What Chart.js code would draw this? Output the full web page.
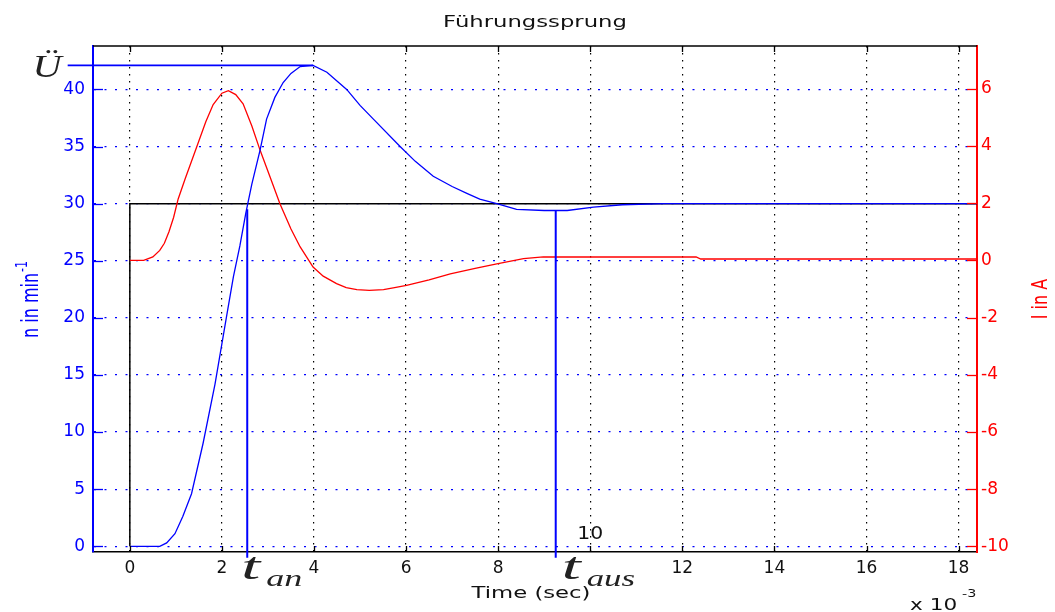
<!DOCTYPE html>
<html>
<head>
<meta charset="utf-8">
<script src="https://cdn.jsdelivr.net/npm/chart.js@4.4.1/dist/chart.umd.min.js"></script>
<style>
  html, body { margin: 0; padding: 0; background: #fff; }
</style>
</head>
<body>
<canvas id="chart" width="1055" height="612"></canvas>
<script>
// time axis in ms (x 10^-3 s)
const timeSpeed = [0, 0.65, 0.8, 0.98, 1.15, 1.34, 1.59, 1.85, 2.1, 2.25, 2.39, 2.52, 2.65, 2.83, 2.97, 3.15, 3.33, 3.5, 3.7, 3.98, 4.28, 4.71, 5.0, 5.29, 5.87, 6.2, 6.59, 7.0, 7.32, 7.6, 7.97, 8.4, 9.0, 9.5, 10.07, 10.7, 11.6, 18.4]
const speedValues = [0, 0, 0.3, 1.1, 2.6, 4.6, 9.0, 14.2, 20.1, 23.6, 26.3, 29.2, 31.7, 34.7, 37.4, 39.3, 40.6, 41.4, 42.0, 42.1, 41.5, 40.0, 38.6, 37.4, 35.0, 33.7, 32.4, 31.5, 30.9, 30.4, 30.0, 29.5, 29.4, 29.4, 29.7, 29.9, 30.0, 30.0]

const timeCurrent = [0, 0.3, 0.5, 0.65, 0.75, 0.85, 0.95, 1.05, 1.2, 1.45, 1.65, 1.81, 2.0, 2.14, 2.3, 2.46, 2.65, 2.83, 3.05, 3.26, 3.5, 3.7, 3.98, 4.2, 4.49, 4.7, 4.93, 5.2, 5.51, 5.75, 6.01, 6.5, 6.96, 7.5, 7.97, 8.55, 8.98, 12.3, 12.4, 18.4]
const currentValues = [0, 0, 0.12, 0.35, 0.6, 1.0, 1.5, 2.15, 2.85, 3.96, 4.85, 5.45, 5.85, 5.94, 5.8, 5.48, 4.7, 3.85, 2.9, 1.98, 1.1, 0.47, -0.23, -0.55, -0.81, -0.95, -1.02, -1.05, -1.02, -0.95, -0.87, -0.68, -0.47, -0.28, -0.12, 0.06, 0.12, 0.12, 0.05, 0.05]

// reference step (Führungsgröße)
const timeRef = [0, 0, 18.4]
const refValues = [0, 30, 30]

// markers: overshoot level, rise time, settling time
const overshootTime = [-1.35, 3.98]
const overshootLevel = 42.1
const tAn = 2.55
const tAus = 9.25
const markerTop = [29.5, 29.4]
const markerBottom = -1.0

const xTicks = [0, 2, 4, 6, 8, 10, 12, 14, 16, 18]

const toPoints = (xs, ys) => xs.map((x, i) => ({ x: x, y: ys[i] }))

const sans = 'DejaVu Sans'
const serif = 'Liberation Serif'

function drawText(ctx, str, x, y, font, color, align, sx) {
  ctx.save()
  ctx.translate(x, y)
  ctx.scale(sx || 1, 1)
  ctx.font = font
  ctx.fillStyle = color
  ctx.textAlign = align || 'left'
  ctx.textBaseline = 'alphabetic'
  ctx.fillText(str, 0, 0)
  ctx.restore()
}

// texts, top frame line and inward tick marks
const annotations = {
  id: 'annotations',
  afterDraw(chart) {
    const { ctx, chartArea: a, scales } = chart
    const xs = scales.x

    ctx.save()
    ctx.strokeStyle = '#000'
    ctx.lineWidth = 1.3
    ctx.beginPath()
    ctx.moveTo(a.left, a.top)
    ctx.lineTo(a.right, a.top)
    ctx.stroke()

    // inward ticks
    ctx.lineWidth = 1.3
    xs.ticks.forEach(t => {
      const px = Math.round(xs.getPixelForValue(t.value)) + 0.5
      ctx.beginPath()
      ctx.moveTo(px, a.top); ctx.lineTo(px, a.top + 6)
      ctx.moveTo(px, a.bottom); ctx.lineTo(px, a.bottom - 6)
      ctx.stroke()
    })
    ctx.strokeStyle = '#0000ff'
    scales.yLeft.ticks.forEach(t => {
      const py = Math.round(scales.yLeft.getPixelForValue(t.value)) + 0.5
      ctx.beginPath(); ctx.moveTo(a.left, py); ctx.lineTo(a.left + 10, py); ctx.stroke()
    })
    ctx.strokeStyle = '#ff0000'
    scales.yRight.ticks.forEach(t => {
      const py = Math.round(scales.yRight.getPixelForValue(t.value)) + 0.5
      ctx.beginPath(); ctx.moveTo(a.right, py); ctx.lineTo(a.right - 10, py); ctx.stroke()
    })
    ctx.restore()

    // title
    drawText(ctx, 'Führungssprung', (a.left + a.right) / 2, a.top - 19, '16px "' + sans + '"', '#111', 'center', 1.42)
    // x axis title
    drawText(ctx, 'Time (sec)', (a.left + a.right) / 2 - 4, a.bottom + 46, '16px "' + sans + '"', '#111', 'center', 1.42)
    // exponent
    drawText(ctx, 'x 10', 910, 610, '16px "' + sans + '"', '#111', 'left', 1.35)
    drawText(ctx, '-3', 962, 597, '11px "' + sans + '"', '#111', 'left', 1.3)
    // relocated tick label
    drawText(ctx, '10', xs.getPixelForValue(10), a.bottom - 13, '17px "' + sans + '"', '#111', 'center', 1.2)

    // left axis title
    ctx.save()
    ctx.translate(38, 300)
    ctx.rotate(-Math.PI / 2)
    ctx.scale(1, 1.4)
    ctx.font = '16px "' + sans + '"'
    ctx.fillStyle = '#0000ff'
    const w1 = ctx.measureText('n in min').width
    ctx.font = '11px "' + sans + '"'
    const w2 = ctx.measureText('-1').width
    const start = -(w1 + w2) / 2
    ctx.font = '16px "' + sans + '"'
    ctx.fillText('n in min', start, 0)
    ctx.font = '11px "' + sans + '"'
    ctx.fillText('-1', start + w1 + 1, -8)
    ctx.restore()

    // right axis title
    ctx.save()
    ctx.translate(1047, 299)
    ctx.rotate(-Math.PI / 2)
    ctx.scale(1, 1.35)
    ctx.font = '16px "' + sans + '"'
    ctx.fillStyle = '#ff0000'
    ctx.textAlign = 'center'
    ctx.fillText('I in A', 0, 0)
    ctx.restore()

    // Ü, t_an, t_aus
    drawText(ctx, 'Ü', 47, 77, 'italic 31px "' + serif + '"', '#222', 'center', 1.3)
    const pa = xs.getPixelForValue(tAn)
    drawText(ctx, 't', pa - 6, 579, 'italic 38px "' + serif + '"', '#222', 'left', 1.8)
    drawText(ctx, 'an', pa + 19, 586, 'italic 24px "' + serif + '"', '#222', 'left', 1.5)
    const pu = xs.getPixelForValue(tAus)
    drawText(ctx, 't', pu + 6, 579, 'italic 38px "' + serif + '"', '#222', 'left', 1.8)
    drawText(ctx, 'aus', pu + 31, 586, 'italic 24px "' + serif + '"', '#222', 'left', 1.45)
  }
}

const chart = new Chart(document.getElementById('chart'), {
  type: 'line',
  data: {
    datasets: [
      {
        label: 'n',
        data: toPoints(timeSpeed, speedValues),
        borderColor: '#0000ff',
        borderWidth: 1.3,
        yAxisID: 'yLeft',
        order: 1
      },
      {
        label: 'I',
        data: toPoints(timeCurrent, currentValues),
        borderColor: '#ff0000',
        borderWidth: 1.3,
        yAxisID: 'yRight',
        order: 2
      },
      {
        label: 'Sollwert',
        data: toPoints(timeRef, refValues),
        borderColor: '#000',
        borderWidth: 1.5,
        yAxisID: 'yLeft',
        order: 3
      },
      {
        label: 'Ü',
        data: toPoints(overshootTime, [overshootLevel, overshootLevel]),
        borderColor: '#0000ff',
        borderWidth: 1.6,
        yAxisID: 'yLeft',
        clip: false,
        order: 0
      },
      {
        label: 't_an',
        data: toPoints([tAn, tAn], [markerTop[0], markerBottom]),
        borderColor: '#0000ff',
        borderWidth: 2,
        yAxisID: 'yLeft',
        clip: false,
        order: 0
      },
      {
        label: 't_aus',
        data: toPoints([tAus, tAus], [markerTop[1], markerBottom]),
        borderColor: '#0000ff',
        borderWidth: 2,
        yAxisID: 'yLeft',
        clip: false,
        order: 0
      }
    ]
  },
  options: {
    responsive: false,
    animation: false,
    elements: { point: { radius: 0 }, line: { tension: 0 } },
    layout: { padding: { top: 46, left: 0, right: 0, bottom: 0 } },
    plugins: {
      legend: { display: false },
      title: { display: false },
      tooltip: { enabled: false }
    },
    scales: {
      x: {
        type: 'linear',
        min: -0.8,
        max: 18.4,
        afterFit: s => { s.height = 60 },
        afterBuildTicks: s => { s.ticks = xTicks.map(v => ({ value: v })) },
        ticks: {
          color: '#111',
          font: { family: sans, size: 17 },
          padding: 6,
          maxRotation: 0,
          callback: v => (v === 10 ? '' : v)
        },
        grid: { color: '#000', lineWidth: 1.2, drawTicks: false },
        border: { color: '#000', width: 1.5, dash: [1.5, 5.5] }
      },
      yLeft: {
        position: 'left',
        min: -0.5,
        max: 43.8,
        afterFit: s => { s.width = 93 },
        ticks: {
          stepSize: 5,
          includeBounds: false,
          color: '#0000ff',
          font: { family: sans, size: 17 },
          padding: 8
        },
        grid: { color: '#0000ff', lineWidth: 1.2, drawTicks: false },
        border: { color: '#0000ff', width: 2, dash: [2, 8.5] }
      },
      yRight: {
        position: 'right',
        min: -10.2,
        max: 7.5,
        afterFit: s => { s.width = 78 },
        ticks: {
          stepSize: 2,
          includeBounds: false,
          color: '#ff0000',
          font: { family: sans, size: 17 },
          padding: 4
        },
        grid: { display: false, drawTicks: false },
        border: { color: '#ff0000', width: 2 }
      }
    }
  },
  plugins: [annotations]
})
</script>
</body>
</html>
